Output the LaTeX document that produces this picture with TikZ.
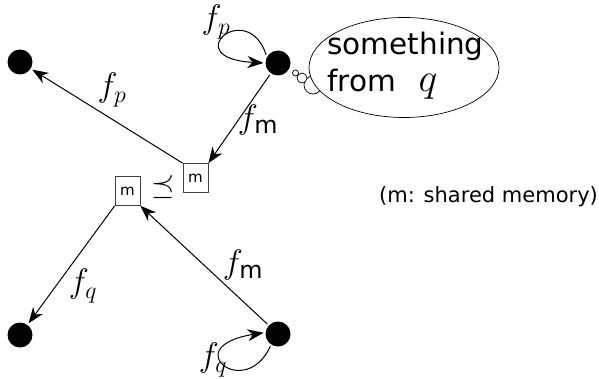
\RequirePackage{fix-cm}
\documentclass[tikz,border=0pt]{standalone}
\usepackage{amsmath,amssymb}
\usepackage{fontspec}
\setmainfont{DejaVu Sans}
\usetikzlibrary{calc,arrows.meta,positioning}

\begin{document}
\begin{tikzpicture}[x=1pt, y=1pt, >={Stealth[length=16pt,width=12pt,inset=5pt]}, line width=1pt,
	dot/.style={circle, fill, inner sep=0pt, minimum size=25pt, outer sep=2pt},
	membox/.style={draw=black!75, line width=0.7pt, minimum width=25pt, minimum height=29pt, inner sep=0pt, font=\fontsize{15}{17}\selectfont},
	lab/.style={font=\fontsize{34}{40}\selectfont, inner sep=0pt}]

	\useasboundingbox (0,0) rectangle (599,378);

	% ================= states and shared memory =================
	\node[dot] (TL) at (20,316) {};
	\node[dot] (TR) at (278,315) {};
	\node[dot] (BL) at (20,43) {};
	\node[dot] (BR) at (278,44) {};

	\node[membox] (M1) at (127.5,187) {m};
	\node[membox] (M2) at (195.5,200) {m};

	\node[font=\fontsize{30}{34}\selectfont, inner sep=0pt] (le) at (163,191) {$\preceq$};

	% ================= transitions =================
	\draw[->] (M2.north west) -- (TL);
	\draw[->] (TR) -- (M2.north east);
	\draw[->] (BR) -- (M1.south east);
	\draw[->] (M1.south west) -- (BL);

	\draw[->] (TR.145) .. controls +(-19,57) and +(-87,5) .. (TR.west);
	\draw[->] (BR.238) .. controls +(-25,-55) and +(-87,-14) .. (BR.175);

	\node[lab] (lp1) at (112,288) {$f_p$};
	\node[lab] (lm1) at (258,258) {$f_{\text{m}}$};
	\node[lab] (lm2) at (243,113) {$f_{\text{m}}$};
	\node[lab] (lq1) at (83,92) {$f_q$};
	\node[lab] (lp2) at (216,356) {$f_p$};
	\node[lab] (lq2) at (213,18) {$f_q$};

	% ================= thought of p =================
	\draw[line width=0.7pt, fill=white] (313,293) circle (9);
	\draw[line width=0.7pt, fill=white] (302,300) circle (5);
	\draw[line width=0.7pt, fill=white] (295.5,305) circle (3);

	\draw[line width=0.7pt, fill=white] (404,310.5) ellipse [x radius=95, y radius=50];

	\node[anchor=base west, inner sep=0pt, font=\fontsize{29.5}{34}\selectfont] (t1) at (327,323) {something};
	\node[anchor=base west, inner sep=0pt, font=\fontsize{29.5}{34}\selectfont] (t2) at (327,286) {from};
	\node[anchor=base west, inner sep=0pt, font=\fontsize{40}{46}\selectfont] (t3) at (418,286) {$q$};

	\node[font=\fontsize{21}{25}\selectfont, inner sep=0pt] (note) at (488.5,181) {(m: shared memory)};

\end{tikzpicture}
\end{document}
